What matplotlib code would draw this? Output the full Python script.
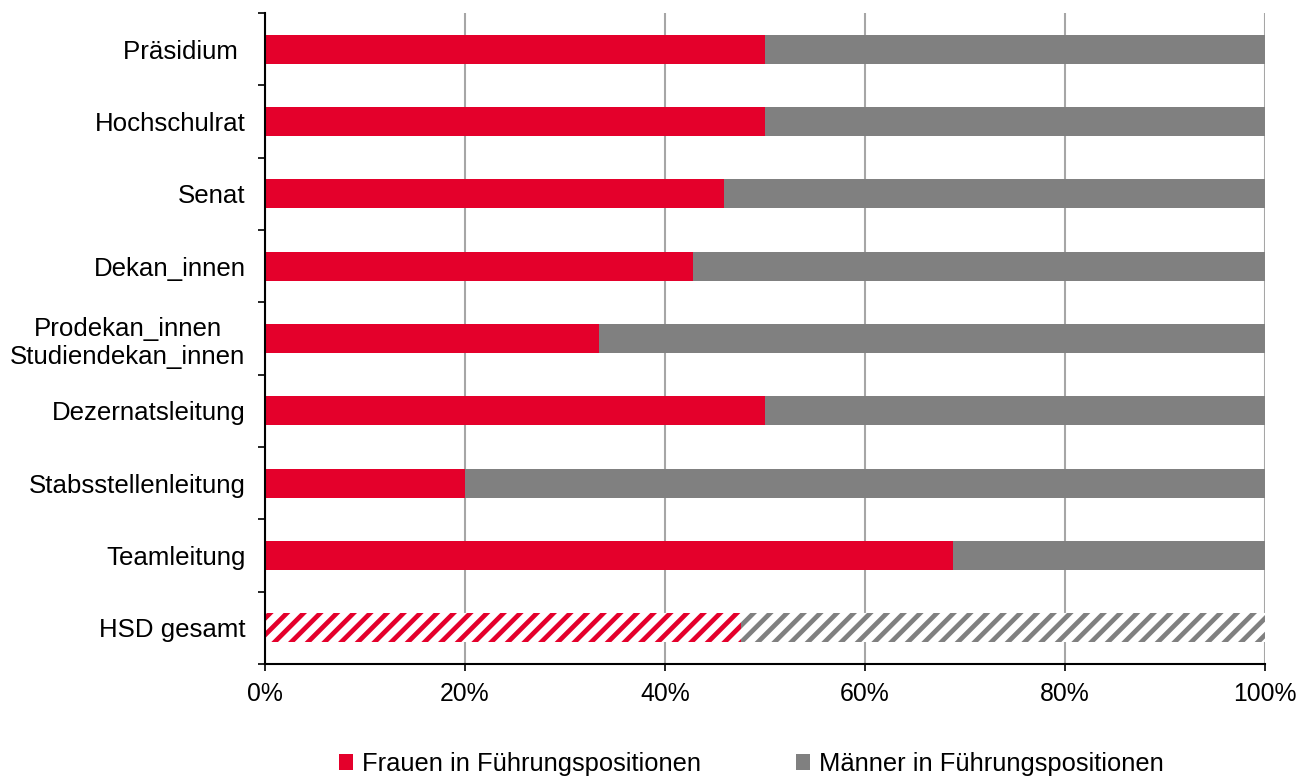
import matplotlib
matplotlib.use("Agg")
import matplotlib.pyplot as plt
import numpy as np
from matplotlib.patches import Patch

plt.rcParams['font.family'] = ['Liberation Sans', 'DejaVu Sans']
plt.rcParams['hatch.linewidth'] = 3.4

categories = ["Präsidium ", "Hochschulrat", "Senat", "Dekan_innen",
              "Prodekan_innen\nStudiendekan_innen", "Dezernatsleitung",
              "Stabsstellenleitung", "Teamleitung", "HSD gesamt"]
frauen = [50.0, 50.0, 45.9, 42.8, 33.4, 50.0, 20.0, 68.8, 47.6]
maenner = [100 - v for v in frauen]
xticklabels = ["0%", "20%", "40%", "60%", "80%", "100%"]
legend_labels = ["Frauen in Führungspositionen", "Männer in Führungspositionen"]

red = "#E4002B"
grey = "#808080"

fig = plt.figure(figsize=(13.10, 7.78), dpi=100)
ax = fig.add_axes([265/1310, 1 - 664/778, 1000/1310, (664-13)/778])

n = len(categories)
y = np.arange(n)[::-1] + 0.5
h = 0.4
for i in range(n):
    hatched = (i == n - 1)
    if hatched:
        ax.barh(y[i], frauen[i], height=h, color="white", edgecolor=red,
                hatch="//", linewidth=0, zorder=3)
        ax.barh(y[i], maenner[i], left=frauen[i], height=h, color="white",
                edgecolor=grey, hatch="//", linewidth=0, zorder=3)
    else:
        ax.barh(y[i], frauen[i], height=h, color=red, linewidth=0, zorder=3)
        ax.barh(y[i], maenner[i], left=frauen[i], height=h, color=grey,
                linewidth=0, zorder=3)

ax.set_xlim(0, 100)
ax.set_ylim(0, n)
ax.set_xticks(np.arange(0, 101, 20))
ax.set_xticklabels(xticklabels, fontsize=17.8)
ax.set_yticks(y)
ax.set_yticklabels(categories, fontsize=18.6, ha="right", multialignment="center")
ax.set_yticks(np.arange(0, n + 1), minor=True)
ax.tick_params(axis="y", which="major", length=0, pad=14)
ax.tick_params(axis="y", which="minor", length=5, width=1.2, color="black")
ax.tick_params(axis="x", which="major", length=5, width=1.2, pad=8, color="black")

ax.grid(axis="x", color="#A6A6A6", linewidth=1.5, zorder=0)
for s in ["top", "right"]:
    ax.spines[s].set_visible(False)
ax.spines["left"].set_linewidth(1.5)
ax.spines["bottom"].set_linewidth(1.5)
ax.spines["left"].set_zorder(4)

handles = [Patch(facecolor=red, edgecolor="none"), Patch(facecolor=grey, edgecolor="none")]
fig.legend(handles, legend_labels, loc="center", bbox_to_anchor=(0.5737, 0.018),
           ncol=2, frameon=False, fontsize=18.4, handlelength=0.55, handleheight=0.55,
           handletextpad=0.35, columnspacing=3.7)

fig.savefig("out.png", dpi=100)
